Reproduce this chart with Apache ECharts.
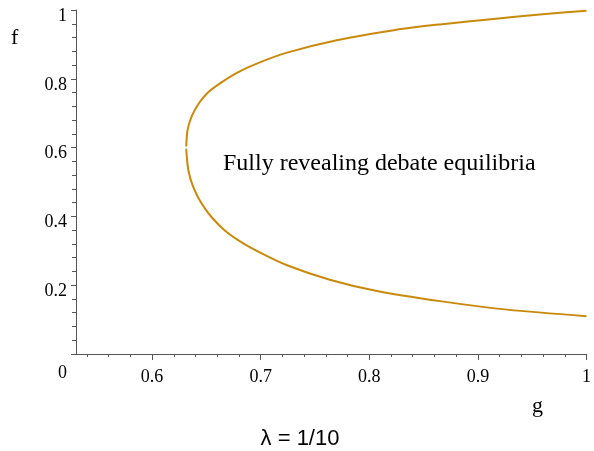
<!DOCTYPE html>
<html>
<head>
<meta charset="utf-8">
<script src="https://cdn.jsdelivr.net/npm/echarts@6/dist/echarts.min.js"></script>
<style>
  html, body { margin: 0; padding: 0; background: #fff; }
  #main { width: 594px; height: 451px; }
</style>
</head>
<body>
<div id="main"></div>
<script>
// upper branch of the curve, from the vertex to g = 1
var topG = [0.6315, 0.6327, 0.6364, 0.643, 0.651, 0.6636, 0.679, 0.697, 0.7243, 0.770, 0.824, 0.865, 0.912, 0.957, 1.0];
var topF = [0.603, 0.651, 0.690, 0.728, 0.759, 0.789, 0.819, 0.845, 0.876, 0.912, 0.942, 0.958, 0.973, 0.987, 0.998];
// lower branch
var botG = [0.6315, 0.6334, 0.6379, 0.6455, 0.6545, 0.6667, 0.6818, 0.700, 0.7243, 0.7636, 0.806, 0.8667, 0.927, 1.0];
var botF = [0.597, 0.535, 0.486, 0.438, 0.399, 0.360, 0.326, 0.294, 0.258, 0.216, 0.184, 0.153, 0.129, 0.110];

var xMajor = [0.6, 0.7, 0.8, 0.9, 1];
var xMinor = [0.54, 0.56, 0.58, 0.62, 0.64, 0.66, 0.68, 0.72, 0.74, 0.76, 0.78, 0.82, 0.84, 0.86, 0.88, 0.92, 0.94, 0.96, 0.98];

function pairs(xs, ys) {
  var out = [];
  for (var i = 0; i < xs.length; i++) out.push([xs[i], ys[i]]);
  return out;
}

var serif = 'Liberation Serif';
var axisCol = '#555';
var lineCol = '#c98a0c';

var chart = echarts.init(document.getElementById('main'));
var option = {
  animation: false,
  grid: { left: 76, top: 10, width: 516, height: 344, containLabel: false },
  xAxis: [
    {
      type: 'value', min: 0.53, max: 1, position: 'bottom',
      axisLine: { lineStyle: { color: axisCol, width: 1 } },
      axisTick: { customValues: xMajor, length: 6, lineStyle: { color: axisCol } },
      axisLabel: {
        customValues: xMajor, margin: 14, color: '#000',
        fontFamily: serif, fontSize: 18,
        formatter: function (v) { return String(+v.toFixed(2)); }
      },
      splitLine: { show: false }
    },
    {
      type: 'value', min: 0.53, max: 1, position: 'bottom', offset: 0,
      axisLine: { show: false },
      axisTick: { customValues: xMinor, length: 3, lineStyle: { color: axisCol } },
      axisLabel: { show: false },
      splitLine: { show: false }
    }
  ],
  yAxis: {
    type: 'value', min: 0, max: 1, interval: 0.2,
    axisLine: { show: true, lineStyle: { color: axisCol, width: 1 } },
    axisTick: { show: true, length: 5, lineStyle: { color: axisCol } },
    minorTick: { show: true, splitNumber: 5, length: 4, lineStyle: { color: axisCol } },
    axisLabel: {
      margin: 9, color: '#000', fontFamily: serif, fontSize: 18,
      verticalAlign: 'top', lineHeight: 12,
      formatter: function (v) { return v === 0 ? '' : String(+v.toFixed(2)); }
    },
    splitLine: { show: false }
  },
  graphic: [
    { type: 'text', left: 58, top: 364, style: { text: '0', font: '18px "Liberation Serif"', fill: '#000' } },
    { type: 'text', left: 11, top: 27, style: { text: 'f', font: '22px "Liberation Serif"', fill: '#000' } },
    { type: 'text', left: 532, top: 395, style: { text: 'g', font: '22px "Liberation Serif"', fill: '#000' } },
    { type: 'text', left: 223, top: 152, style: { text: 'Fully revealing debate equilibria', font: '24px "Liberation Serif"', fill: '#000' } },
    { type: 'text', x: 300, y: 428, style: { text: 'λ = 1/10', font: '22px "Liberation Sans"', fill: '#000', align: 'center' } }
  ],
  series: [
    {
      type: 'line', data: pairs(topG, topF), showSymbol: false, smooth: 0.3,
      lineStyle: { color: lineCol, width: 2 }
    },
    {
      type: 'line', data: pairs(botG, botF), showSymbol: false, smooth: 0.3,
      lineStyle: { color: lineCol, width: 2 }
    }
  ]
};
chart.setOption(option);
</script>
</body>
</html>
